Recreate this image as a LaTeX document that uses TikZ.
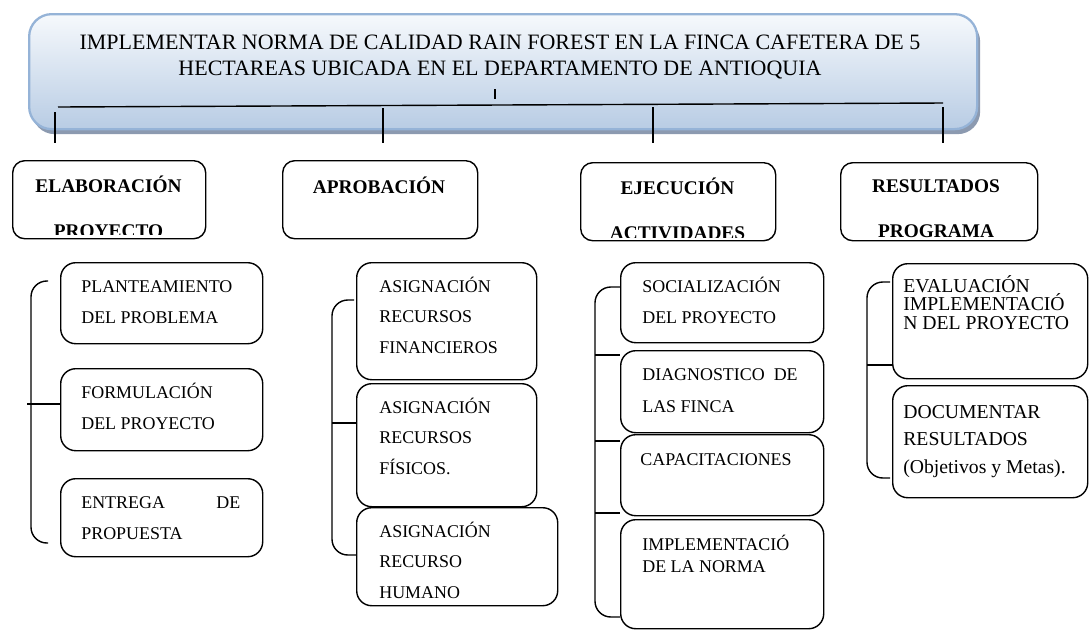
\documentclass[tikz,border=0pt]{standalone}
\usepackage{fontspec}
\setmainfont{Liberation Serif}
\usetikzlibrary{positioning,calc,shadows}

\definecolor{bannerline}{HTML}{95B3D7}
\definecolor{bannertop}{HTML}{F6F9FC}
\definecolor{bannerbot}{HTML}{B8CCE4}
\definecolor{bannershadow}{HTML}{8C9AB0}

\newcommand\firstline{\vrule height 12pt depth 0pt width 0pt}

\tikzset{
  wh/.style 2 args={minimum width=#1*0.02cm, minimum height=#2*0.02cm},
  banner/.style={draw=bannerline, line width=1.3pt, rounded corners=0.45cm,
    top color=bannertop, bottom color=bannerbot, anchor=north west, inner sep=0,
    drop shadow={shadow xshift=0.06cm, shadow yshift=-0.1cm, fill=bannershadow, opacity=1}},
  head/.style={draw, line width=0.8pt, rounded corners=0.24cm, anchor=north west, inner sep=0},
  item/.style={draw, line width=0.8pt, rounded corners=0.3cm, anchor=north west, inner sep=0},
  titletext/.style={anchor=north, inner sep=0, align=center, font=\fontsize{12.5}{14.7}\selectfont},
  headtext/.style={anchor=north, inner sep=0, align=center, font=\fontsize{11}{25.5}\selectfont\bfseries},
  itemtext/.style={anchor=north west, inner sep=0, align=left, font=\fontsize{10.2}{#1}\selectfont},
  itemtext/.default=17.6pt,
  brace/.style={line width=0.8pt, rounded corners=9pt},
  link/.style={line width=0.8pt}
}

\begin{document}
\begin{tikzpicture}[x=0.02cm, y=-0.02cm]
\useasboundingbox (0,0) rectangle (1089,630);

% title banner
\node[banner, wh={948}{115}] (B) at (28,13) {};
\node[titletext] (title) at (500,27.8) {\firstline IMPLEMENTAR NORMA DE CALIDAD RAIN FOREST EN LA FINCA CAFETERA DE 5\\HECTAREAS UBICADA EN EL DEPARTAMENTO DE ANTIOQUIA};

% lines under the title
\coordinate (T0) at (495,89);
\coordinate (T1) at (495,99);
\coordinate (L0) at (58,107);
\coordinate (R0) at (943,103);
\coordinate (D1) at (55,112);
\coordinate (D2) at (383,108);
\coordinate (D3) at (653,107);
\coordinate (D4) at (943,107);
\draw[link] (T0) -- (T1);
\draw[link] (L0) -- (R0);
\foreach \d in {D1,D2,D3,D4}
  \draw[link] (\d) -- (\d |- 0,143);

% phase boxes
\node[head, wh={193}{78}] (H1) at (12,160) {};
\node[head, wh={195}{78}] (H2) at (282,160) {};
\node[head, wh={195}{78}] (H3) at (580,162) {};
\node[head, wh={197}{78}] (H4) at (840,162) {};
\begin{scope}
  \clip (H1.north west) rectangle ([yshift=0.09cm]H1.south east);
  \node[headtext] (h1) at (108.5,170.8) {\firstline ELABORACIÓN\\PROYECTO};
\end{scope}
\node[headtext] (h2) at (379,171.8) {\firstline APROBACIÓN};
\begin{scope}
  \clip (H3.north west) rectangle ([yshift=0.07cm]H3.south east);
  \node[headtext] (h3) at (677.5,172.8) {\firstline EJECUCIÓN\\ACTIVIDADES};
\end{scope}
\begin{scope}
  \clip (H4.north west) rectangle ([yshift=0.05cm]H4.south east);
  \node[headtext] (h4) at (936,170.8) {\firstline RESULTADOS\\PROGRAMA};
\end{scope}

% elaboracion
\node[item, wh={202}{81}] (P1) at (60,262) {};
\node[item, wh={202}{82}] (P2) at (60,368) {};
\node[item, wh={202}{78}] (P3) at (60,478) {};
\node[itemtext] (p1) at (81,270.8) {\firstline PLANTEAMIENTO\\DEL PROBLEMA};
\node[itemtext] (p2) at (81,376.8) {\firstline FORMULACIÓN\\DEL PROYECTO};
\node[itemtext, text width=3.18cm] (p3) at (81,486.8) {\firstline ENTREGA\hfill DE\\PROPUESTA};
\draw[brace] (48,281) -| (31,543) -- (48,543);
\coordinate (c1) at (27,404);
\draw[link] (c1) -- (c1 -| P2.west);

% aprobacion
\node[item, wh={180}{117}] (A1) at (356,262) {};
\node[item, wh={180}{123}] (A2) at (356,383) {};
\node[item, wh={201}{98}] (A3) at (356,507) {};
\node[itemtext=17.4pt] (a1) at (379,270.8) {\firstline ASIGNACIÓN\\RECURSOS\\FINANCIEROS};
\node[itemtext=17.4pt] (a2) at (379,391.8) {\firstline ASIGNACIÓN\\RECURSOS\\FÍSICOS.};
\node[itemtext=17.4pt] (a3) at (379,515.8) {\firstline ASIGNACIÓN\\RECURSO\\HUMANO};
\draw[brace] (354,300) -| (332,555) -- (356,555);
\coordinate (c2) at (332,423);
\draw[link] (c2) -- (c2 -| A2.west);

% ejecucion
\node[item, wh={203}{80}] (S1) at (620,262) {};
\node[item, wh={203}{82}] (S2) at (620,350) {};
\node[item, wh={203}{81}] (S3) at (620,434) {};
\node[item, wh={203}{109}] (S4) at (620,519) {};
\node[itemtext] (s1) at (642,270.8) {\firstline SOCIALIZACIÓN\\DEL PROYECTO};
\node[itemtext=18.1pt] (s2) at (642,358.8) {\firstline DIAGNOSTICO\ \ DE\\LAS FINCA};
\node[itemtext] (s3) at (640,443.8) {\firstline CAPACITACIONES};
\node[itemtext=12.5pt] (s4) at (642,528.8) {\firstline IMPLEMENTACIÓ\\DE LA NORMA};
\draw[brace] (620,287) -| (595,617) -- (620,617);
\coordinate (c3) at (595,355);
\coordinate (c4) at (595,441);
\coordinate (c5) at (595,513);
\draw[link] (c3) -- (c3 -| S2.west);
\draw[link] (c4) -- (c4 -| S3.west);
\draw[link] (c5) -- (c5 -| S4.west);

% resultados
\node[item, wh={195}{115}] (E1) at (892,263) {};
\node[item, wh={195}{112}] (E2) at (892,385) {};
\node[itemtext=10.5pt, font=\fontsize{11.2}{10.5}\selectfont] (e1) at (903,270.8) {\firstline EVALUACIÓN\\IMPLEMENTACIÓ\\N DEL PROYECTO};
\node[itemtext=15.6pt, font=\fontsize{11.2}{15.6}\selectfont] (e2) at (903,396.8) {\firstline DOCUMENTAR\\RESULTADOS\\(Objetivos y Metas).};
\draw[brace] (890,282) -| (867,478) -- (890,478);
\coordinate (c6) at (867,365);
\draw[link] (c6) -- (c6 -| E1.west);

\end{tikzpicture}
\end{document}
